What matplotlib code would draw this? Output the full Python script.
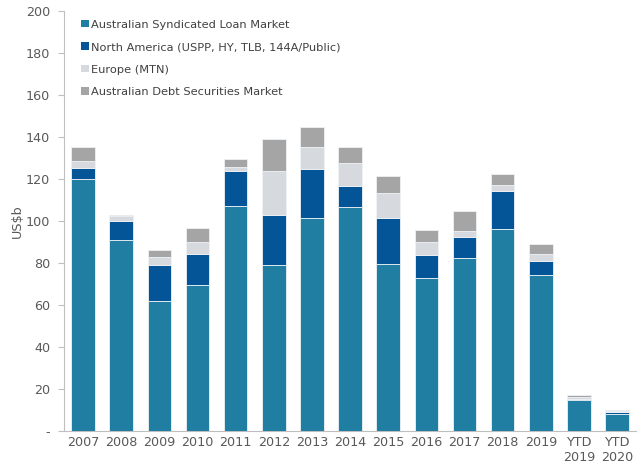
import matplotlib
matplotlib.use("Agg")
import matplotlib.pyplot as plt
import numpy as np
from matplotlib.patches import Patch

# --- Data (US$b) ------------------------------------------------------------
categories = ["2007", "2008", "2009", "2010", "2011", "2012", "2013", "2014",
              "2015", "2016", "2017", "2018", "2019", "YTD\n2019", "YTD\n2020"]
aus_loan = [120.0, 91.0, 62.0, 69.5, 107.0, 79.0, 101.4, 106.7,
            79.4, 72.7, 82.2, 96.2, 74.3, 14.8, 7.9]
north_america = [5.4, 9.1, 17.2, 14.8, 16.7, 23.9, 23.5, 10.1,
                 22.0, 11.1, 10.3, 18.1, 6.7, 0.4, 1.3]
europe = [3.2, 2.1, 3.5, 5.8, 1.9, 20.9, 10.2, 10.8,
          11.9, 6.0, 2.6, 2.7, 3.3, 0.8, 0.4]
aus_debt = [6.6, 0.5, 3.6, 6.6, 3.7, 15.2, 9.7, 7.8,
            8.0, 6.1, 9.8, 5.1, 4.9, 1.1, 0.6]

series = [
    ("Australian Syndicated Loan Market", aus_loan, "#1F7EA1"),
    ("North America (USPP, HY, TLB, 144A/Public)", north_america, "#035598"),
    ("Europe (MTN)", europe, "#D6DADE"),
    ("Australian Debt Securities Market", aus_debt, "#A5A5A5"),
]

# --- Figure ------------------------------------------------------------------
fig = plt.figure(figsize=(6.4, 4.7), dpi=100)
ax = fig.add_axes([0.1, 0.083, 0.894, 0.894])

x = np.arange(len(categories))
bottom = np.zeros(len(categories))
handles = []
for label, vals, color in series:
    vals = np.array(vals)
    ax.bar(x, vals, width=0.62, bottom=bottom, color=color,
           edgecolor="#EEF2F5", linewidth=0.6, zorder=3)
    bottom += vals
    handles.append(Patch(facecolor=color, edgecolor="none", label=label))

leg = ax.legend(handles=handles, loc="upper left", bbox_to_anchor=(0.022, 0.99),
                frameon=False, fontsize=8.2, handlelength=0.65, handleheight=0.65,
                handletextpad=0.25, labelspacing=1.1, borderaxespad=0.0)
for t in leg.get_texts():
    t.set_color("#404040")

# --- Axis cosmetics ----------------------------------------------------------
ax.set_xlim(-0.5, len(categories) - 0.5)
ax.set_ylim(0, 200)
ax.set_yticks(range(0, 201, 20))
ax.set_yticklabels(["-"] + [str(v) for v in range(20, 201, 20)])
ax.set_xticks(x)
ax.set_xticklabels(categories)
ax.tick_params(axis="x", length=0, pad=3.5, labelsize=9.2, colors="#595959")
ax.tick_params(axis="y", length=4, width=0.8, color="#BFBFBF", pad=6,
               labelsize=9.2, colors="#595959")
ax.set_ylabel("US$b", fontsize=9.2, color="#595959", labelpad=1)

for side in ("top", "right"):
    ax.spines[side].set_visible(False)
for side in ("left", "bottom"):
    ax.spines[side].set_color("#BFBFBF")
    ax.spines[side].set_linewidth(0.8)

fig.savefig("out.png", dpi=100)
